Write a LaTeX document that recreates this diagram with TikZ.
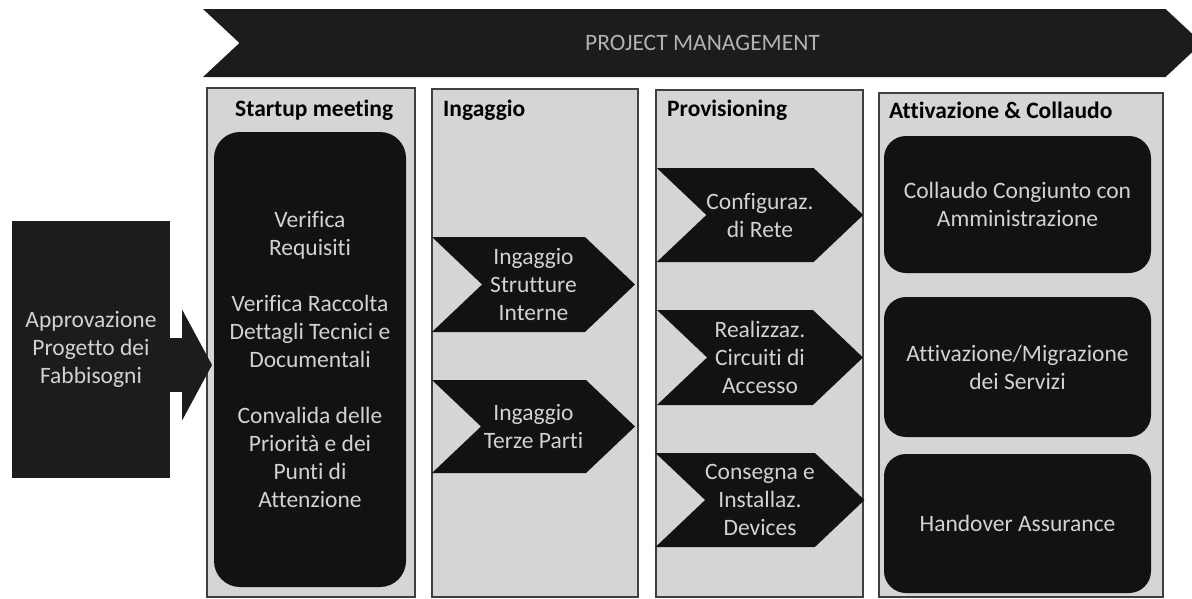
\documentclass[tikz,border=0pt]{standalone}
\usepackage{fontspec}
\setmainfont{Carlito}[Ligatures=NoCommon]
\usetikzlibrary{shapes.symbols, arrows.meta, positioning}

\definecolor{boxblack}{HTML}{121212}
\definecolor{bannerblack}{HTML}{1C1C1C}
\definecolor{panelgray}{HTML}{D5D5D5}
\definecolor{boxtext}{HTML}{D2D2D2}

\tikzset{
  txt/.style={font=\fontsize{23.5}{28}\selectfont},
  panel/.style={draw=black!75, line width=1.3, fill=panelgray},
  header/.style={font=\bfseries\fontsize{23.5}{28}\selectfont, anchor=base west, inner sep=0},
  darkbox/.style={txt, fill=boxblack, text=boxtext, rounded corners=22, align=center, inner sep=0},
  chevron/.style={txt, signal, signal from=west, signal to=east, signal pointer angle=87,
    fill=boxblack, text=boxtext, align=center, inner sep=0},
}

\begin{document}
\begin{tikzpicture}[x=1pt, y=-1pt]
    % Background
    \useasboundingbox (0,0) rectangle (1192,598);
    \clip (0,0) rectangle (1192,598);
    \fill[white] (0,0) rectangle (1192,598);

    % the four phase panels
\foreach \l/\r/\t in {207/415/88, 432/638/89, 656/863/90, 879/1163/93}
  \draw[panel] (\l,\t) rectangle (\r,597);

    \node[chevron, fill=bannerblack, signal pointer angle=86, minimum width=999, minimum height=68,
      text=boxtext!85!black] (pm) at (702.5,43) {PROJECT MANAGEMENT};

    \node[header] (h1) at (235,116) {Startup meeting};
    \node[header] (h2) at (443,116) {Ingaggio};
    \node[header] (h3) at (667,116) {Provisioning};
    \node[header] (h4) at (889,118) {Attivazione \& Collaudo};

    \node[darkbox, rounded corners=0, fill=bannerblack, minimum width=158, minimum height=257]
      (appr) at (91,349.5) {Approvazione\\Progetto dei\\Fabbisogni};

    \node[darkbox, rounded corners=26, minimum width=192, minimum height=455] (startup) at (310,359.5)
      {Verifica\\Requisiti\\[28pt]Verifica Raccolta\\Dettagli Tecnici e\\Documentali\\[28pt]Convalida delle\\Priorità e dei\\Punti di\\Attenzione};

    \node[chevron, minimum width=203, minimum height=95] (ing1) at (533.5,284.5) {Ingaggio\\Strutture\\Interne};
    \node[chevron, minimum width=203, minimum height=93] (ing2) at (533.5,426.5) {Ingaggio\\Terze Parti};

    \node[chevron, minimum width=206, minimum height=94] (prov1) at (760,215) {Configuraz.\\di Rete};
    \node[chevron, minimum width=206, minimum height=95] (prov2) at (760,357.5) {Realizzaz.\\Circuiti di\\Accesso};
    \node[chevron, minimum width=206, minimum height=94] (prov3) at (760,500) {Consegna e\\Installaz.\\Devices};

    \node[darkbox, minimum width=267, minimum height=137] (coll) at (1017.5,204.5) {Collaudo Congiunto con\\Amministrazione};
    \node[darkbox, minimum width=267, minimum height=140] (attiv) at (1017.5,367) {Attivazione/Migrazione\\dei Servizi};
    \node[darkbox, minimum width=267, minimum height=139] (hand) at (1017.5,523.5) {Handover Assurance};

    % block arrow into the startup meeting
    \coordinate (tip) at (212,365);
    \draw[bannerblack, line width=54, -{Triangle[length=30, width=110]}] (appr.east |- tip) -- (tip);

  \end{tikzpicture}
\end{document}
